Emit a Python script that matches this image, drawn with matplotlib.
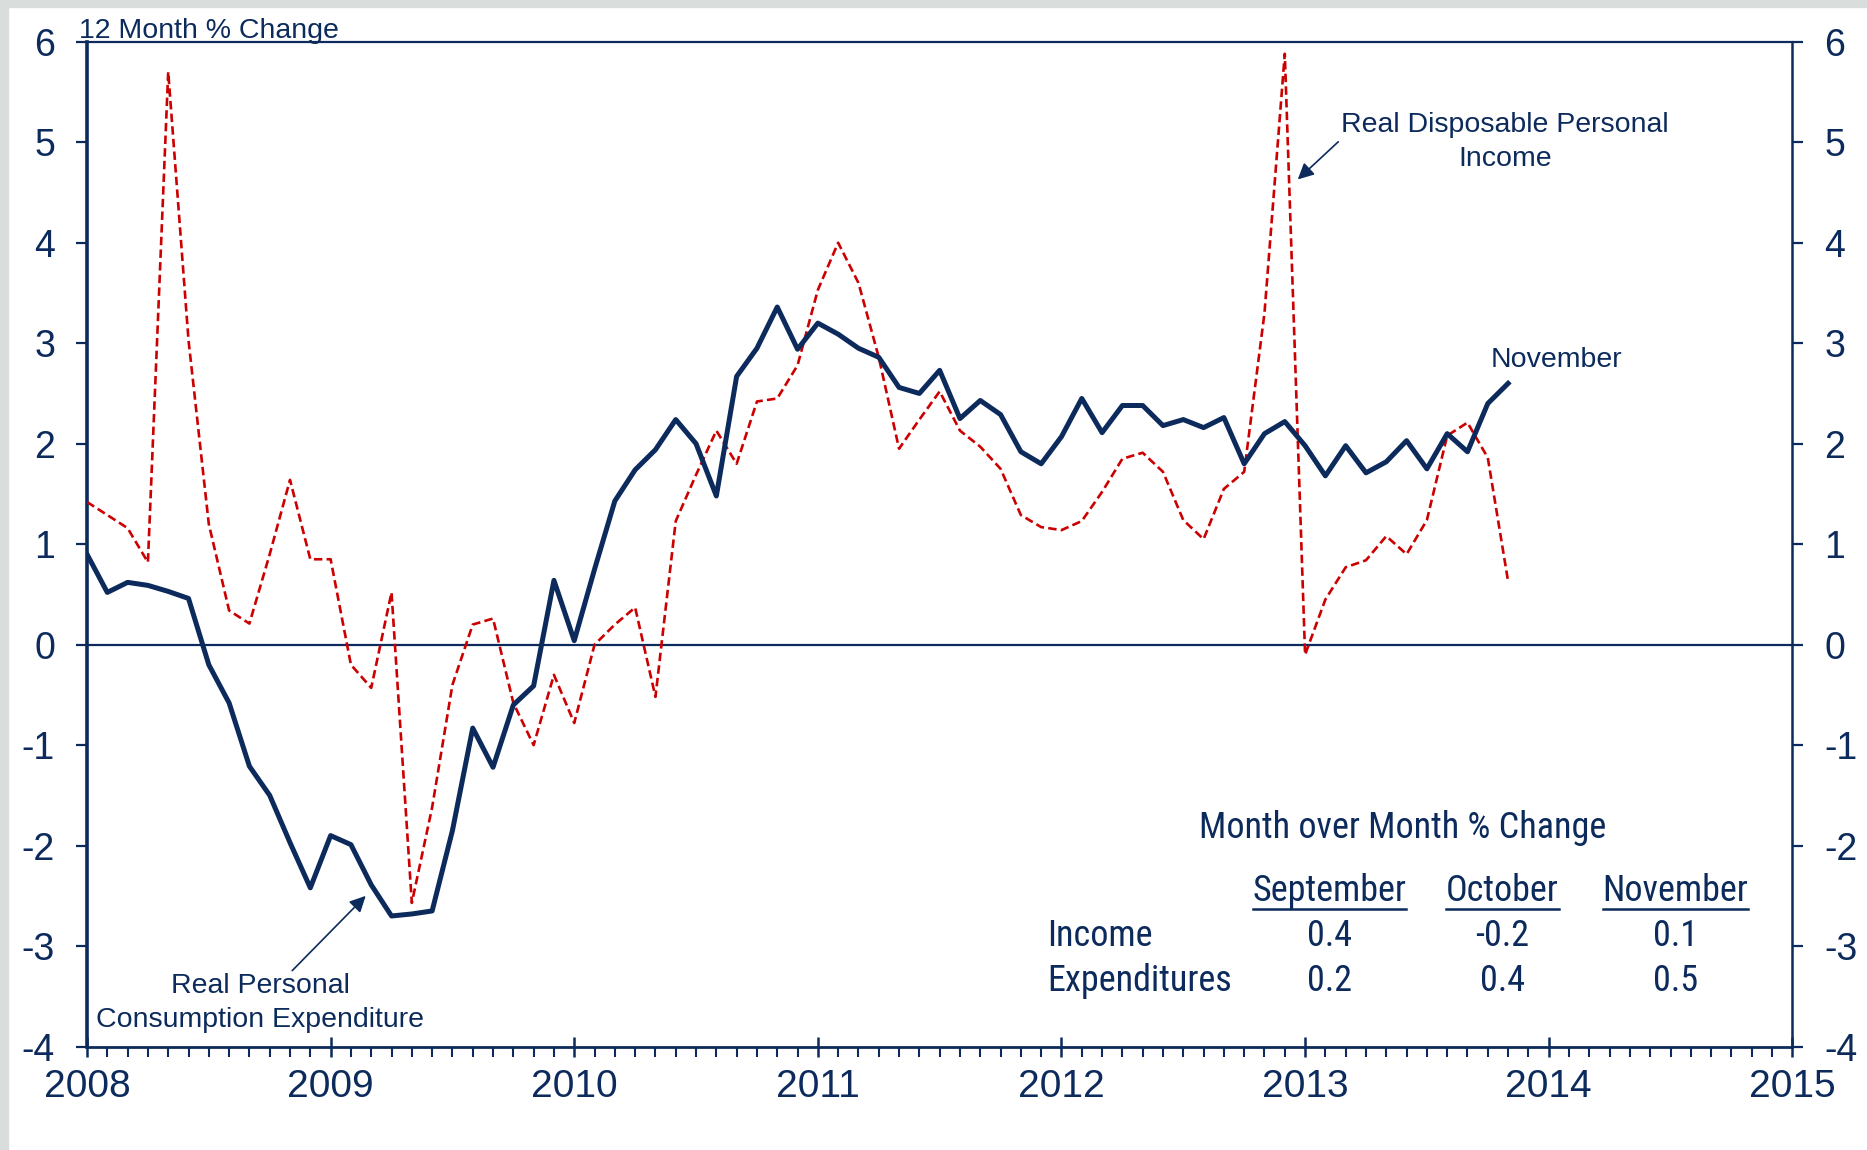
import os
import numpy as np
import matplotlib
matplotlib.use("Agg")
import matplotlib.pyplot as plt
from matplotlib import font_manager
from matplotlib.font_manager import FontProperties
from matplotlib.patches import Rectangle
from matplotlib.ticker import MultipleLocator, FixedLocator

plt.rcParams['font.family'] = ['Liberation Sans', 'DejaVu Sans']
plt.rcParams['axes.unicode_minus'] = False

navy = '#0c2b5c'
red = '#cc0000'

# 12 month % change, monthly Jan 2008 .. Nov 2013
pce = [0.90, 0.52, 0.62, 0.59, 0.53, 0.46, -0.20, -0.58, -1.21, -1.50, -1.97, -2.42,
       -1.90, -1.99, -2.39, -2.70, -2.68, -2.65, -1.85, -0.83, -1.22, -0.60, -0.41, 0.64,
       0.04, 0.75, 1.43, 1.74, 1.94, 2.24, 2.00, 1.48, 2.67, 2.95, 3.36, 2.94,
       3.20, 3.09, 2.95, 2.86, 2.56, 2.50, 2.73, 2.25, 2.43, 2.29, 1.92, 1.80,
       2.07, 2.45, 2.11, 2.38, 2.38, 2.18, 2.24, 2.16, 2.26, 1.80, 2.10, 2.22,
       1.98, 1.68, 1.98, 1.71, 1.82, 2.03, 1.75, 2.10, 1.92, 2.40, 2.60]
dpi_inc = [1.42, 1.29, 1.16, 0.82, 5.70, 3.03, 1.20, 0.34, 0.21, 0.90, 1.64, 0.85,
           0.85, -0.20, -0.43, 0.52, -2.57, -1.62, -0.40, 0.20, 0.26, -0.58, -1.00, -0.30,
           -0.78, 0.00, 0.20, 0.37, -0.52, 1.23, 1.69, 2.13, 1.80, 2.42, 2.45, 2.78,
           3.53, 4.00, 3.60, 2.86, 1.95, 2.24, 2.52, 2.13, 1.97, 1.75, 1.29, 1.17,
           1.14, 1.23, 1.52, 1.85, 1.91, 1.72, 1.24, 1.05, 1.55, 1.72, 3.30, 5.88,
           -0.10, 0.45, 0.77, 0.84, 1.08, 0.90, 1.24, 2.08, 2.21, 1.86, 0.63]

months = ['September', 'October', 'November']
income_mom = ['0.4', '-0.2', '0.1']
exp_mom = ['0.2', '0.4', '0.5']
years = list(range(2008, 2016))
yticks = list(range(-4, 7))

x = 2008 + np.arange(len(pce)) / 12.0

# look for a narrow sans face for the little table (Arial Narrow look)
narrow_file = None
prefs = ['liberationsansnarrow-regular', 'arialn', 'notosans-condensed.',
         'roboto_condensed-regular', 'robotocondensed-regular', 'opensans_condensed-regular']
files = [f.fname for f in font_manager.fontManager.ttflist]
for p in prefs:
    hits = [f for f in files if p in os.path.basename(f).lower()]
    if hits:
        narrow_file = hits[0]
        break
if narrow_file:
    tprop = FontProperties(fname=narrow_file, size=26)
else:
    tprop = FontProperties(family=['Liberation Sans', 'DejaVu Sans'], size=23)

fig = plt.figure(figsize=(18.67, 11.5), dpi=100)
fig.patches.append(Rectangle((0, 1 - 7 / 1150), 1, 7 / 1150, transform=fig.transFigure,
                             color='#d9dedd', zorder=-1))
fig.patches.append(Rectangle((0, 0), 8 / 1867, 1, transform=fig.transFigure,
                             color='#d9dedd', zorder=-1))

ax = fig.add_axes([0.0466, 0.0899, 0.9134, 0.8738])
ax.plot(x, dpi_inc, color=red, lw=1.9, ls=(0, (3.2, 1.6)), zorder=3)
ax.plot(x, pce, color=navy, lw=3.6, zorder=4)
ax.axhline(0, color=navy, lw=1.6, zorder=2)

ax.set_xlim(2008, 2015)
ax.set_ylim(-4, 6)
ax.xaxis.set_major_locator(FixedLocator(years))
ax.xaxis.set_minor_locator(MultipleLocator(1 / 12))
ax.set_xticklabels([str(y) for y in years])
ax.set_yticks(yticks)

for side in ['left', 'right', 'top', 'bottom']:
    ax.spines[side].set_color(navy)
ax.spines['left'].set_linewidth(2.6)
ax.spines['right'].set_linewidth(1.8)
ax.spines['top'].set_linewidth(1.6)
ax.spines['bottom'].set_linewidth(2.0)

ax.tick_params(axis='x', which='major', direction='inout', length=14, width=1.8,
               color=navy, labelcolor=navy, labelsize=28, pad=9)
ax.tick_params(axis='x', which='minor', direction='out', length=7, width=1.5, color=navy)
ax.tick_params(axis='y', which='major', direction='out', length=8, width=1.6,
               color=navy, labelcolor=navy, labelsize=27, pad=15,
               left=True, right=True, labelleft=True, labelright=True)

ax.text(-0.0047, 1.004, '12 Month % Change', transform=ax.transAxes,
        fontsize=20.5, color=navy, ha='left', va='baseline')

ax.annotate('Real Personal\nConsumption Expenditure', xy=(2009.144, -2.50),
            xytext=(2008.71, -3.57), ha='center', va='center', fontsize=20.5,
            color=navy, linespacing=1.4,
            arrowprops=dict(arrowstyle='-|>', color=navy, lw=1.2, mutation_scale=24,
                            shrinkA=0, shrinkB=0, relpos=(0.59, 1.0)))
ax.annotate('Real Disposable Personal\nIncome', xy=(2012.97, 4.63),
            xytext=(2013.82, 5.0), ha='center', va='center', fontsize=20.5,
            color=navy, linespacing=1.4,
            arrowprops=dict(arrowstyle='-|>', color=navy, lw=1.2, mutation_scale=24,
                            shrinkA=0, shrinkB=0, relpos=(0.0, 0.55)))
ax.text(2014.03, 2.83, 'November', ha='center', va='center', fontsize=20.5, color=navy)

# month over month table
col_x = [2013.10, 2013.81, 2014.52]
ax.text(2013.40, -1.82, 'Month over Month % Change', ha='center', va='center',
        color=navy, fontproperties=tprop)
heads = []
for cx, m, inc, ex in zip(col_x, months, income_mom, exp_mom):
    heads.append(ax.text(cx, -2.45, m, ha='center', va='center', color=navy,
                         fontproperties=tprop))
    ax.text(cx, -2.90, inc, ha='center', va='center', color=navy, fontproperties=tprop)
    ax.text(cx, -3.35, ex, ha='center', va='center', color=navy, fontproperties=tprop)
ax.text(2011.94, -2.90, 'Income', ha='left', va='center', color=navy, fontproperties=tprop)
ax.text(2011.94, -3.35, 'Expenditures', ha='left', va='center', color=navy,
        fontproperties=tprop)

fig.canvas.draw()
inv = ax.transData.inverted()
for t in heads:
    bb = t.get_window_extent()
    (x0, _), (x1, _) = inv.transform([(bb.x0, bb.y0), (bb.x1, bb.y0)])
    ax.plot([x0, x1], [-2.63, -2.63], color=navy, lw=1.8, clip_on=False)

fig.savefig('out.png', dpi=100)
